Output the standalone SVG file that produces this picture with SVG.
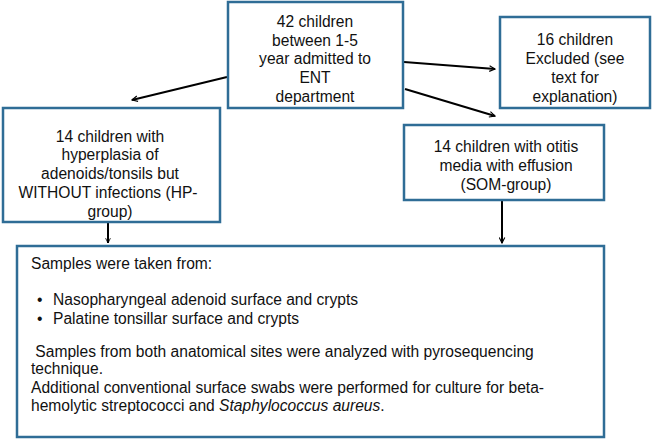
<svg xmlns="http://www.w3.org/2000/svg" width="652" height="439" viewBox="0 0 652 439">
<defs>
<style>
.box{fill:#fff;stroke:#2f6d96;stroke-width:2.5}
.t{font-family:"Liberation Sans",Arial,sans-serif;font-size:15.6px;fill:#111}
.c{text-anchor:middle}
.ln{stroke:#000;stroke-width:2;fill:none}
</style>
<marker id="ah" viewBox="0 0 10 10" refX="9" refY="5" markerWidth="7" markerHeight="7" markerUnits="userSpaceOnUse" orient="auto">
<path d="M1,1 L9,5 L1,9" fill="none" stroke="#000" stroke-width="1.6"/>
</marker>
<marker id="ahs" viewBox="0 0 10 10" refX="9" refY="5" markerWidth="6" markerHeight="7" markerUnits="userSpaceOnUse" orient="auto">
<path d="M1,1 L9,5 L1,9" fill="none" stroke="#000" stroke-width="1.4"/>
</marker>
</defs>
<rect width="652" height="439" fill="#fff"/>
<g id="connectors">
<line class="ln" x1="227" y1="77" x2="132" y2="100" marker-end="url(#ah)"/>
<line class="ln" x1="404" y1="62" x2="495" y2="69" marker-end="url(#ah)"/>
<line class="ln" x1="405" y1="89" x2="495" y2="116" marker-end="url(#ah)"/>
<line class="ln" x1="108" y1="223" x2="108" y2="243" marker-end="url(#ahs)" stroke-width="1.5"/>
<line class="ln" x1="502" y1="201" x2="502" y2="243" marker-end="url(#ah)"/>
</g>
<g id="n-start">
<rect class="box" x="228" y="2" width="175" height="106"/>
<text class="t c" x="315" y="27">42 children</text>
<text class="t c" x="315" y="46">between 1-5</text>
<text class="t c" x="315" y="64">year admitted to</text>
<text class="t c" x="315" y="83">ENT</text>
<text class="t c" x="315" y="102">department</text>
</g>
<g id="n-excluded">
<rect class="box" x="500" y="17" width="150" height="91"/>
<text class="t c" x="575" y="45">16 children</text>
<text class="t c" x="575" y="64">Excluded (see</text>
<text class="t c" x="575" y="83">text for</text>
<text class="t c" x="575" y="102">explanation)</text>
</g>
<g id="n-hp">
<rect class="box" x="3" y="108" width="217" height="114"/>
<text class="t c" x="110" y="142">14 children with</text>
<text class="t c" x="110" y="160">hyperplasia of</text>
<text class="t c" x="110" y="179">adenoids/tonsils but</text>
<text class="t c" x="108" y="198">WITHOUT infections (HP-</text>
<text class="t c" x="110" y="217">group)</text>
</g>
<g id="n-som">
<rect class="box" x="404" y="125" width="200" height="75"/>
<text class="t c" x="506" y="152">14 children with otitis</text>
<text class="t c" x="506" y="171">media with effusion</text>
<text class="t c" x="506" y="190">(SOM-group)</text>
</g>
<g id="n-samples">
<rect class="box" x="17" y="246" width="587" height="191"/>
<text class="t" x="31" y="269">Samples were taken from:</text>
<text class="t" x="37" y="305">•</text>
<text class="t" x="53" y="305">Nasopharyngeal adenoid surface and crypts</text>
<text class="t" x="37" y="324">•</text>
<text class="t" x="53" y="324">Palatine tonsillar surface and crypts</text>
<text class="t" x="31" y="357" xml:space="preserve"> Samples from both anatomical sites were analyzed with pyrosequencing</text>
<text class="t" x="31" y="374">technique.</text>
<text class="t" x="31" y="393" textLength="513" lengthAdjust="spacing">Additional conventional surface swabs were performed for culture for beta-</text>
<text class="t" x="31" y="411">hemolytic streptococci and <tspan font-style="italic">Staphylococcus aureus</tspan>.</text>
</g>
</svg>
